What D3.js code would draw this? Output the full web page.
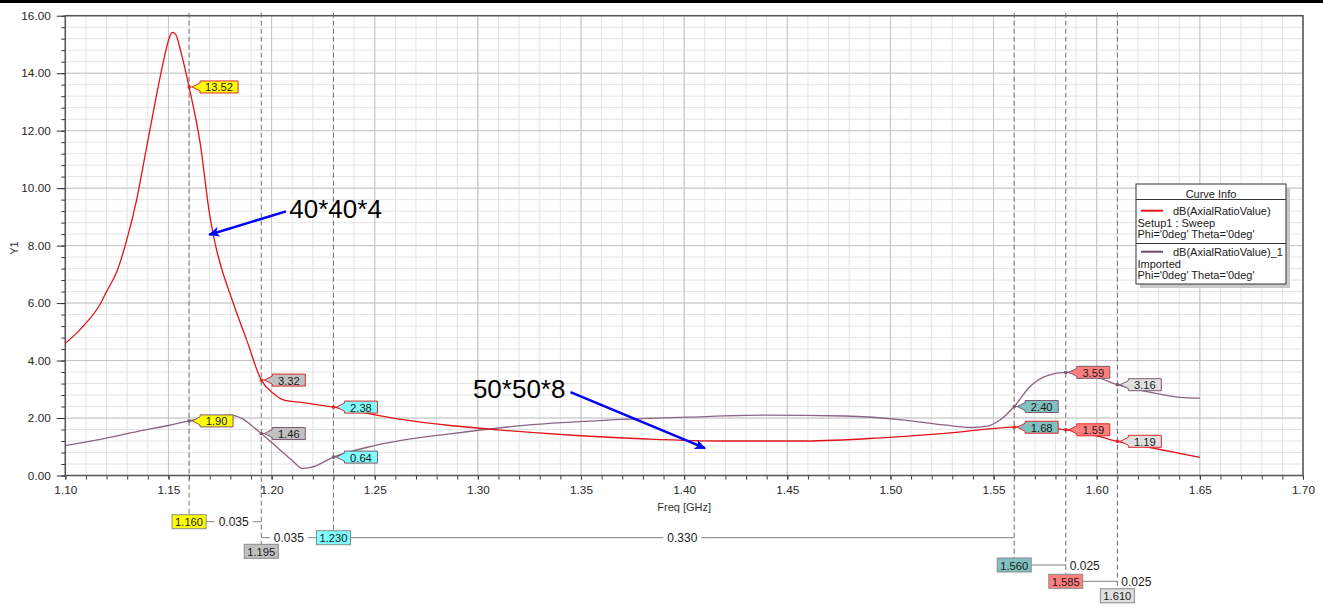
<!DOCTYPE html>
<html><head><meta charset="utf-8">
<script src="https://cdn.jsdelivr.net/npm/d3@7/dist/d3.min.js"></script>
<style>
html,body{margin:0;padding:0;background:#fff;}
svg{display:block;font-family:"Liberation Sans",Arial,sans-serif;}
</style></head><body>
<svg id="c" width="1323" height="607"></svg>
<script>
// ---------- DATA ----------
const redFreq = [1.100,1.105,1.110,1.1168,1.120,1.125,1.130,1.1346,1.1392,1.1438,1.148,1.1505,1.1519,1.1535,1.156,1.160,1.1653,1.1701,1.1726,1.1814,1.1879,1.195,1.2008,1.2057,1.217,1.230,1.262,1.2865,1.3095,1.344,1.3823,1.420,1.459,1.497,1.5355,1.548,1.560,1.570,1.585,1.600,1.610,1.624,1.650];
const redVal  = [4.60,4.92,5.30,5.95,6.40,7.10,8.25,9.60,11.34,13.08,14.55,15.25,15.42,15.35,14.75,13.52,11.60,9.02,8.09,6.00,4.72,3.32,2.86,2.63,2.52,2.38,1.96,1.74,1.59,1.41,1.27,1.20,1.20,1.32,1.53,1.62,1.68,1.68,1.59,1.38,1.19,1.00,0.63];
const purpleFreq = [1.100,1.120,1.1362,1.150,1.160,1.170,1.180,1.186,1.190,1.195,1.2041,1.210,1.2149,1.219,1.230,1.2493,1.2622,1.2865,1.3248,1.3631,1.4014,1.4397,1.478,1.5068,1.526,1.5394,1.547,1.5531,1.560,1.5676,1.5757,1.585,1.600,1.610,1.6242,1.6403,1.650];
const purpleVal  = [1.04,1.30,1.55,1.74,1.90,2.02,2.10,1.97,1.76,1.46,0.89,0.52,0.25,0.28,0.64,1.03,1.21,1.45,1.76,1.93,2.03,2.10,2.07,1.93,1.76,1.67,1.72,1.93,2.40,3.09,3.47,3.59,3.42,3.16,2.92,2.72,2.69];

const markerFreq = [1.160,1.195,1.230,1.560,1.585,1.610];
const markerRedVal = [13.52,3.32,2.38,1.68,1.59,1.19];
const markerPurpleVal = [1.90,1.46,0.64,2.40,3.59,3.16];

const xTickLabels = ["1.10","1.15","1.20","1.25","1.30","1.35","1.40","1.45","1.50","1.55","1.60","1.65","1.70"];
const yTickLabels = ["0.00","2.00","4.00","6.00","8.00","10.00","12.00","14.00","16.00"];
const xTitle = "Freq [GHz]";
const yTitle = "Y1";

const legendTitle = "Curve Info";
const legendNames = ["dB(AxialRatioValue)","dB(AxialRatioValue)_1"];
const legendSub1 = ["Setup1 : Sweep","Imported"];
const legendSub2 = ["Phi='0deg' Theta='0deg'","Phi='0deg' Theta='0deg'"];

const annoLabels = ["40*40*4","50*50*8"];
const annoTextFreq = [1.2086,1.2976];
const annoTextVal = [8.97,2.70];
const annoFromFreq = [1.207,1.3449];
const annoFromVal = [9.19,2.90];
const annoToFreq = [1.1698,1.4101];
const annoToVal = [8.38,0.95];

// ---------- STYLE / LAYOUT ----------
const RED = "#e0141b", PURPLE = "#8a6482";
const RED_TAG_STROKE = "#e02828", PURPLE_TAG_STROKE = "#7a5a72";
const markerFills = ["#ffff00","#c0c0c0","#80ffff","#80c0c0","#ff7f7f","#e0e0e0"];
const boxRowY = [521.7,551.3,537.7,565,581.3,595.8];
const FONT = "'Liberation Sans', Arial, sans-serif";

const svg = d3.select("#c");
const L = 65.3, R = 1303, T = 15.7, B = 475.5;
const x = d3.scaleLinear().domain([1.10,1.70]).range([L,R]);
const y = d3.scaleLinear().domain([0,16]).range([B,T]);

svg.append("rect").attr("x",0).attr("y",0).attr("width",1323).attr("height",607).attr("fill","#fff");
svg.append("rect").attr("x",0).attr("y",0).attr("width",1323).attr("height",3).attr("fill","#000");

// grid
const minorX = d3.range(110,171).map(d=>d/100);
const majorX = xTickLabels.map(Number);
const minorY = d3.range(0,41).map(d=>d*0.4);
const majorY = yTickLabels.map(Number);
const grid = svg.append("g");
grid.selectAll(".mx").data(minorX).join("line").attr("x1",d=>x(d)).attr("x2",d=>x(d)).attr("y1",T).attr("y2",B).attr("stroke","#e4e4e4").attr("stroke-width",1);
grid.selectAll(".my").data(minorY).join("line").attr("y1",d=>y(d)).attr("y2",d=>y(d)).attr("x1",L).attr("x2",R).attr("stroke","#e4e4e4").attr("stroke-width",1);
grid.selectAll(".Mx").data(majorX).join("line").attr("x1",d=>x(d)).attr("x2",d=>x(d)).attr("y1",T).attr("y2",B).attr("stroke","#c4c4c4").attr("stroke-width",1);
grid.selectAll(".My").data(majorY).join("line").attr("y1",d=>y(d)).attr("y2",d=>y(d)).attr("x1",L).attr("x2",R).attr("stroke","#c4c4c4").attr("stroke-width",1);

// axes
svg.append("g").attr("transform",`translate(0,${B})`)
  .call(d3.axisBottom(x).tickValues(majorX).tickFormat((d,i)=>xTickLabels[i]).tickSize(4).tickPadding(6));
svg.append("g").attr("transform",`translate(0,${B})`)
  .call(d3.axisBottom(x).tickValues(minorX).tickFormat("").tickSize(4)).select(".domain").remove();
svg.append("g").attr("transform",`translate(${L},0)`)
  .call(d3.axisLeft(y).tickValues(majorY).tickFormat((d,i)=>yTickLabels[i]).tickSize(8.5).tickPadding(6));
svg.append("g").attr("transform",`translate(${L},0)`)
  .call(d3.axisLeft(y).tickValues(minorY).tickFormat("").tickSize(4)).select(".domain").remove();
svg.selectAll(".domain").remove();
svg.selectAll(".tick line").attr("stroke","#333");
svg.selectAll(".tick text").attr("font-size",11.8).attr("fill","#2a2a2a").attr("font-family",FONT);

// border
svg.append("rect").attr("x",L).attr("y",T).attr("width",R-L).attr("height",B-T)
  .attr("fill","none").attr("stroke","#555").attr("stroke-width",1.5);

// axis titles
svg.append("text").attr("x",(L+R)/2).attr("y",507).attr("text-anchor","middle").attr("dominant-baseline","central")
  .attr("font-size",11).attr("fill","#333").text(xTitle);
svg.append("text").attr("transform","translate(14,248) rotate(-90)").attr("text-anchor","middle").attr("dominant-baseline","central")
  .attr("font-size",11).attr("fill","#333").text(yTitle);

// marker dashed lines
svg.append("g").selectAll("line").data(markerFreq).join("line")
  .attr("x1",d=>x(d)).attr("x2",d=>x(d)).attr("y1",T-3).attr("y2",(d,i)=>boxRowY[i]-7)
  .attr("stroke","#707070").attr("stroke-width",1).attr("stroke-dasharray","5,3");

// curves
svg.append("clipPath").attr("id","clp").append("rect").attr("x",L).attr("y",T).attr("width",R-L).attr("height",B-T);
const line = d3.line().x(d=>x(d[0])).y(d=>y(d[1])).curve(d3.curveMonotoneX);
svg.append("path").datum(purpleFreq.map((f,i)=>[f,purpleVal[i]])).attr("d",line)
  .attr("fill","none").attr("stroke",PURPLE).attr("stroke-width",1.3).attr("clip-path","url(#clp)");
svg.append("path").datum(redFreq.map((f,i)=>[f,redVal[i]])).attr("d",line)
  .attr("fill","none").attr("stroke",RED).attr("stroke-width",1.3).attr("clip-path","url(#clp)");

// tags
function textWidth(str, size){
  const t = svg.append("text").attr("font-size",size).text(str);
  const w = t.node().getComputedTextLength(); t.remove(); return w;
}
function tag(px, py, label, fill, stroke){
  const g = svg.append("g");
  const tw = textWidth(label,11.2);
  const bx = px+11, bw = Math.max(33, tw+10), h = 6;
  g.append("rect").attr("x",px-1.5).attr("y",py-1.5).attr("width",3).attr("height",3).attr("fill",stroke);
  g.append("line").attr("x1",px).attr("x2",px+3).attr("y1",py).attr("y2",py).attr("stroke",stroke);
  const pts = [[px+3,py],[bx,py-4],[bx,py-h],[bx+bw,py-h],[bx+bw,py+h],[bx,py+h],[bx,py+4]];
  g.append("path").attr("d","M"+pts.map(p=>p.join(",")).join("L")+"Z")
    .attr("fill",fill).attr("stroke",stroke).attr("stroke-width",1);
  g.append("text").attr("x",bx+bw/2).attr("y",py+0.5).attr("text-anchor","middle").attr("dominant-baseline","central")
    .attr("font-size",11.2).attr("fill","#1a1a1a").text(label);
}
markerFreq.forEach((f,i)=>{
  tag(x(f), y(markerPurpleVal[i]), markerPurpleVal[i].toFixed(2), markerFills[i], PURPLE_TAG_STROKE);
  tag(x(f), y(markerRedVal[i]), markerRedVal[i].toFixed(2), markerFills[i], RED_TAG_STROKE);
});

// bottom marker boxes
const boxes = markerFreq.map((f,i)=>{
  const label = f.toFixed(3);
  const tw = textWidth(label,11.2);
  const w = tw+6, cx = x(f), cy = boxRowY[i];
  return {cx, cy, w, left:cx-w/2, right:cx+w/2, label, fill:markerFills[i]};
});
const gb = svg.append("g");
function deltaLine(x1, x2, yy, label, mode){
  const tw = textWidth(label,12);
  let tx;
  if(mode==="center"){
    tx = (x1+x2)/2;
    gb.append("line").attr("x1",x1).attr("x2",tx-tw/2-4).attr("y1",yy).attr("y2",yy).attr("stroke","#808080");
    gb.append("line").attr("x1",tx+tw/2+4).attr("x2",x2).attr("y1",yy).attr("y2",yy).attr("stroke","#808080");
  } else {
    tx = x2+4+tw/2;
    gb.append("line").attr("x1",x1).attr("x2",x2).attr("y1",yy).attr("y2",yy).attr("stroke","#808080");
  }
  gb.append("text").attr("x",tx).attr("y",yy+0.5).attr("text-anchor","middle").attr("dominant-baseline","central")
    .attr("font-size",12).attr("fill","#1a1a1a").text(label);
}
const d = (a,b)=>(markerFreq[b]-markerFreq[a]).toFixed(3);
deltaLine(boxes[0].right, boxes[1].cx, boxes[0].cy, d(0,1), "center");
deltaLine(boxes[1].cx, boxes[2].left, boxes[2].cy, d(1,2), "center");
deltaLine(boxes[2].right, boxes[3].cx, boxes[2].cy, d(2,3), "center");
deltaLine(boxes[3].right, boxes[4].cx, boxes[3].cy, d(3,4), "outside");
deltaLine(boxes[4].right, boxes[5].cx, boxes[4].cy, d(4,5), "outside");
boxes.forEach(b=>{
  gb.append("rect").attr("x",b.left).attr("y",b.cy-7).attr("width",b.w).attr("height",14)
    .attr("fill",b.fill).attr("stroke","#8a8a8a").attr("stroke-width",1);
  gb.append("text").attr("x",b.cx).attr("y",b.cy+0.5).attr("text-anchor","middle").attr("dominant-baseline","central")
    .attr("font-size",11.2).attr("fill","#1a1a1a").text(b.label);
});

// legend
const lg = svg.append("g").attr("font-size",11).attr("fill","#1a1a1a");
lg.append("rect").attr("x",1140).attr("y",188).attr("width",150).attr("height",100).attr("fill","#c8c8c8");
lg.append("rect").attr("x",1136).attr("y",184).attr("width",150).attr("height",100).attr("fill","#fff").attr("stroke","#333").attr("stroke-width",1);
lg.append("text").attr("x",1211).attr("y",193.5).attr("text-anchor","middle").attr("dominant-baseline","central").text(legendTitle);
lg.append("line").attr("x1",1136).attr("x2",1286).attr("y1",199.5).attr("y2",199.5).attr("stroke","#333");
lg.append("line").attr("x1",1136).attr("x2",1286).attr("y1",243.5).attr("y2",243.5).attr("stroke","#333");
const legColors = [RED,"#6e4a66"];
[0,1].forEach(i=>{
  const y0 = 210.7 + i*41;
  lg.append("line").attr("x1",1141).attr("x2",1163).attr("y1",y0).attr("y2",y0).attr("stroke",legColors[i]).attr("stroke-width",2);
  lg.append("text").attr("x",1173).attr("y",y0).attr("dominant-baseline","central").text(legendNames[i]);
  lg.append("text").attr("x",1137.5).attr("y",y0+12).attr("dominant-baseline","central").text(legendSub1[i]);
  lg.append("text").attr("x",1137.5).attr("y",y0+23.5).attr("dominant-baseline","central").text(legendSub2[i]);
});

// annotations
const defs = svg.append("defs");
defs.append("marker").attr("id","ah").attr("viewBox","0 0 10 10").attr("refX",9).attr("refY",5)
  .attr("markerWidth",4.5).attr("markerHeight",4.5).attr("orient","auto")
  .append("path").attr("d","M0,0.5L10,5L0,9.5L2.5,5Z").attr("fill","#0000ff");
annoLabels.forEach((lab,i)=>{
  svg.append("line").attr("x1",x(annoFromFreq[i])).attr("y1",y(annoFromVal[i]))
    .attr("x2",x(annoToFreq[i])).attr("y2",y(annoToVal[i]))
    .attr("stroke","#0000ff").attr("stroke-width",2.5).attr("marker-end","url(#ah)");
  svg.append("text").attr("x",x(annoTextFreq[i])).attr("y",y(annoTextVal[i]))
    .attr("font-size",26).attr("fill","#000").text(lab);
});
</script>
</body></html>
